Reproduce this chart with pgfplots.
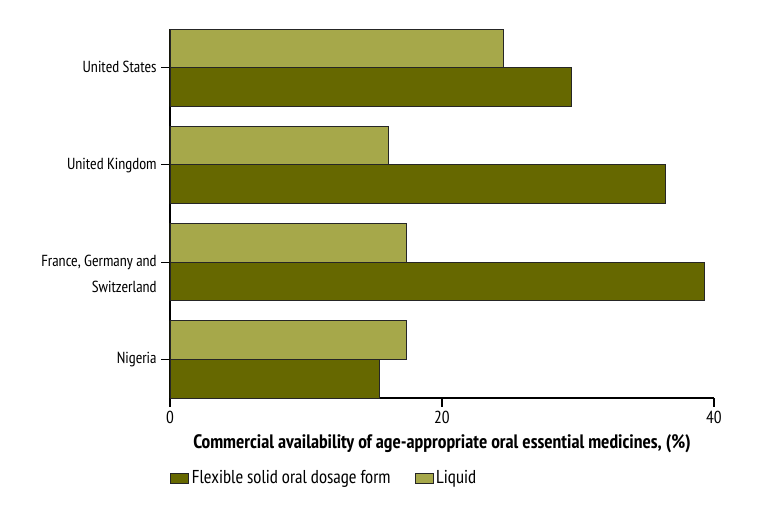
\documentclass[border=0pt]{standalone}
\usepackage{pgfplots}
\pgfplotsset{compat=1.18}
\usepackage{fontspec}
\setmainfont{PT Sans Narrow}

\definecolor{liquid}{RGB}{166,168,74}
\definecolor{flexible}{RGB}{102,104,0}

\begin{document}
\begin{tikzpicture}
\begin{axis}[
    name=ax,
    scale only axis,
    width=408pt, height=276.75pt,
    xbar, bar width=0.4,
    xmin=0, xmax=40,
    ymin=-0.4, ymax=3.4,
    axis x line*=bottom, axis y line*=left,
    axis line style={-, black, line width=0.8pt},
    xtick={0,20,40},
    ytick={0,1,2,3},
    yticklabels={Nigeria,
        {\begin{tabular}[t]{@{}r@{}}France, Germany and\\[5pt]Switzerland\end{tabular}},
        United Kingdom, United States},
    tick align=outside,
    major tick length=6.5pt,
    tick style={black, line width=0.8pt},
    /pgf/number format/assume math mode=true,
    xticklabel style={font=\fontsize{13}{15}\selectfont},
    yticklabel style={font=\fontsize{12}{14}\selectfont, anchor=base east, yshift=-0.35em},
    xlabel={Commercial availability of age-appropriate oral essential medicines, (\%)},
    xlabel style={font=\fontsize{14.6}{17}\selectfont\bfseries, at={(axis description cs:0.5,-0.125)}, anchor=center},
    legend style={draw=none, font=\fontsize{14}{16}\selectfont, at={(axis description cs:0,-0.217)}, anchor=west,
        legend columns=2, inner sep=0pt,
        /tikz/every even column/.append style={column sep=16pt}},
    legend image code/.code={\draw[#1] (0pt,-3.75pt) rectangle (13.5pt,3.75pt);},
    every axis plot/.append style={draw=black!85, line width=0.7pt},
]
\addplot[fill=flexible, bar shift=-0.2] coordinates {
    (15.4,0) (39.3,1) (36.4,2) (29.5,3)
};
\addplot[fill=liquid, bar shift=0.2] coordinates {
    (17.4,0) (17.4,1) (16.1,2) (24.5,3)
};
\legend{Flexible solid oral dosage form, Liquid}
\end{axis}
\pgfresetboundingbox
\path[use as bounding box] (ax.south west) ++(-127.5pt,-79.5pt) rectangle ++(578.25pt,378pt);
\end{tikzpicture}
\end{document}
